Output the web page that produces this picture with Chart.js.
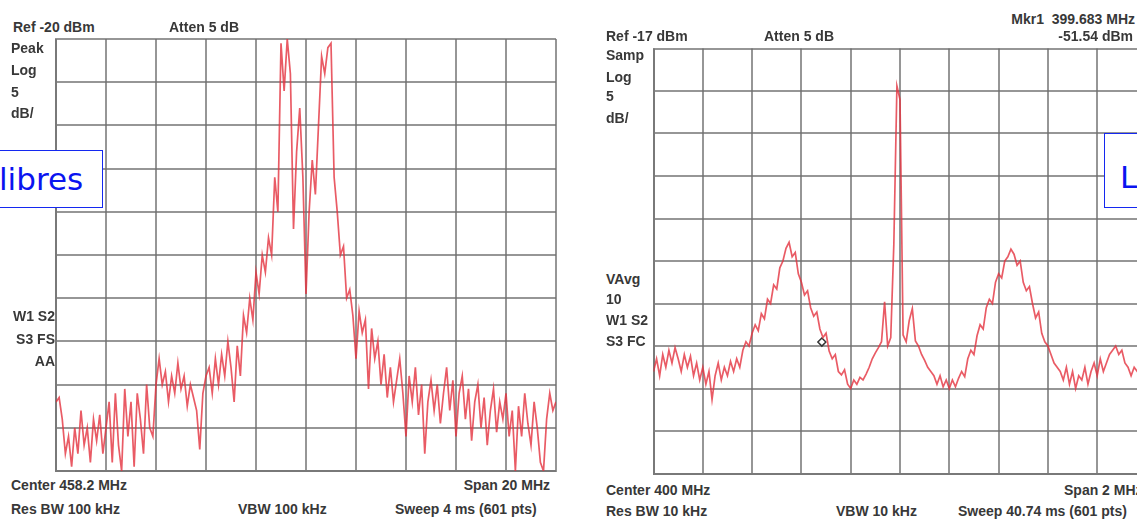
<!DOCTYPE html>
<html>
<head>
<meta charset="utf-8">
<script src="https://cdn.jsdelivr.net/npm/chart.js@4.4.0/dist/chart.umd.min.js"></script>
<style>
html, body { margin: 0; padding: 0; background: #fff; width: 1137px; height: 525px; overflow: hidden; }
body { position: relative; }
canvas { position: absolute; }
.t { position: absolute; font: bold 14px "Liberation Sans", Arial, sans-serif; line-height: 14px; color: #383838; white-space: nowrap; }
.r { transform: translateX(-100%); }
.box { position: absolute; background: #fff; border: 1.5px solid #1428f0; box-sizing: border-box; }
.hand { position: absolute; font: 31px "DejaVu Sans", sans-serif; line-height: 31px; color: #0a14f0; white-space: nowrap; }
</style>
</head>
<body>
<canvas id="leftChart" width="508" height="440" style="left:52px; top:35px"></canvas>
<canvas id="rightChart" width="504" height="436" style="left:648px; top:43px"></canvas>

<!-- left screen annotations -->
<div class="t" style="left:13px; top:20px">Ref -20 dBm</div>
<div class="t" style="left:169px; top:20px">Atten 5 dB</div>
<div class="t" style="left:11px; top:41px">Peak</div>
<div class="t" style="left:11px; top:63px">Log</div>
<div class="t" style="left:11px; top:85px">5</div>
<div class="t" style="left:11px; top:106px">dB/</div>
<div class="t r" style="left:55px; top:309px">W1 S2</div>
<div class="t r" style="left:55px; top:332px">S3 FS</div>
<div class="t r" style="left:55px; top:354px">AA</div>
<div class="t" style="left:11px; top:478px">Center 458.2 MHz</div>
<div class="t r" style="left:550px; top:478px">Span 20 MHz</div>
<div class="t" style="left:11px; top:502px">Res BW 100 kHz</div>
<div class="t" style="left:238px; top:502px">VBW 100 kHz</div>
<div class="t" style="left:395px; top:502px">Sweep 4 ms (601 pts)</div>

<!-- right screen annotations -->
<div class="t r" style="left:1135px; top:12px">Mkr1&nbsp; 399.683 MHz</div>
<div class="t r" style="left:1133px; top:29px">-51.54 dBm</div>
<div class="t" style="left:606px; top:29px">Ref -17 dBm</div>
<div class="t" style="left:764px; top:29px">Atten 5 dB</div>
<div class="t" style="left:606px; top:48px">Samp</div>
<div class="t" style="left:606px; top:70px">Log</div>
<div class="t" style="left:606px; top:89px">5</div>
<div class="t" style="left:606px; top:111px">dB/</div>
<div class="t" style="left:606px; top:272px">VAvg</div>
<div class="t" style="left:606px; top:292px">10</div>
<div class="t" style="left:606px; top:313px">W1 S2</div>
<div class="t" style="left:606px; top:334px">S3 FC</div>
<div class="t" style="left:606px; top:483px">Center 400 MHz</div>
<div class="t" style="left:1064px; top:483px">Span 2 MHz</div>
<div class="t" style="left:606px; top:504px">Res BW 10 kHz</div>
<div class="t" style="left:836px; top:504px">VBW 10 kHz</div>
<div class="t" style="left:958px; top:504px">Sweep 40.74 ms (601 pts)</div>

<!-- handwritten-style labels -->
<div class="box" style="left:-3px; top:150px; width:106px; height:58px"></div>
<div class="hand" style="left:-1px; top:164px">libres</div>
<div class="box" style="left:1104px; top:133px; width:60px; height:75px"></div>
<div class="hand" style="left:1120px; top:162px">L</div>

<script>
// Left screen: Center 458.2 MHz, Span 20 MHz, Ref -20 dBm, 5 dB/div
const leftStartMHz = 448.2;
const leftStopMHz = 468.2;
const leftRefDbm = -20;
const leftLevels = [
    -62, -61.5, -64, -68, -66, -69.5, -65, -68, -63, -67, -65, -69, -64, -66.5, -63.5, -68, -65,
    -62, -69, -61, -67, -70, -60.5, -66, -62, -69.5, -61, -64, -68, -60, -65, -66, -60,
    -57, -60, -58.5, -62, -59, -61, -57.5, -60.5, -59, -62.5, -60, -61.5, -63, -67.5, -61, -59,
    -58, -61, -57, -60, -56.5, -59, -55, -58, -62, -55.5, -59, -52, -54, -50, -52.5, -47,
    -49.5, -45, -47, -43, -45, -36, -40, -20.5, -26, -20, -24, -42, -33, -28, -36, -49.5,
    -40, -34, -38, -30, -22, -24, -21, -20.5, -36, -40, -45, -44, -50, -49, -52, -57,
    -51.5, -54, -52.5, -60.5, -53.5, -57, -55, -60, -56.5, -61.5, -58, -62, -59.5, -57, -61, -66,
    -59, -62, -58, -63.5, -60, -68, -62, -59.5, -63, -60, -64.5, -61, -58, -63, -59.5, -66,
    -61, -59, -64, -60.5, -66.5, -62, -60, -65, -61.5, -67, -63, -60.5, -65.5, -62, -64, -61,
    -66, -63, -70, -62.5, -66, -61, -64.5, -67, -62, -65, -69, -70, -64, -61, -63, -62
];

// Right screen: Center 400 MHz, Span 2 MHz, Ref -17 dBm, 5 dB/div
const rightStartMHz = 399;
const rightStopMHz = 401;
const rightRefDbm = -17;
const rightLevels = [
    -55, -53.5, -55.5, -53, -54.5, -52.5, -54, -52.2, -53.5, -55, -53, -54.5, -53.2, -55.5, -54, -56,
    -54.5, -56.5, -55, -58.3, -55.5, -54, -56, -54.5, -55.5, -53.8, -55, -53.5, -54.5, -52.5, -51.5, -52,
    -50.5, -49.5, -50.2, -48.2, -48.8, -46.5, -47, -44.8, -45.3, -42.8, -42, -40.5, -39.8, -41.5, -41, -43.5,
    -44.5, -46, -45.5, -47.5, -48.5, -48, -50, -51, -50.5, -52.6, -53.5, -53, -55, -55.4, -54.8, -56.5,
    -57, -56, -56.5, -55.7, -56, -55.3, -54.5, -53.5, -52.8, -52.2, -51.5, -46.8, -52, -51, -40, -21.4,
    -23, -50.7, -51.5, -49, -47.6, -51.4, -52, -53, -53.7, -54.5, -55, -55.5, -56.5, -55.5, -56.8, -56,
    -57, -56, -56.8, -55.8, -55, -55.6, -53.5, -52.5, -53, -50.8, -49.5, -50, -47.5, -46.5, -47, -44.5,
    -43.5, -44, -42, -41.5, -40.6, -41.2, -42.5, -42, -44.5, -45.5, -45, -47, -48.7, -48, -50.5, -51.5,
    -52, -53, -54, -54.5, -55, -56, -54.5, -56.5, -55, -57, -55.5, -56, -54.5, -56.5, -55, -54,
    -55.5, -53.5, -55, -54, -53, -52.5, -52, -53, -52.5, -54, -54.5, -55.5, -54.5, -55, -54, -55, -54.5
];

// Marker 1
const markerMHz = 399.683;
const markerDbm = -51.54;

const gridColor = "rgba(110, 110, 110, 0.72)";
const traceColor = "rgba(228, 50, 62, 0.8)";

function toPoints(startMHz, stopMHz, levels) {
    // Sweep points are evenly spaced across the span
    const step = (stopMHz - startMHz) / (levels.length - 1);
    return levels.map((y, i) => ({ x: startMHz + i * step, y: y }));
}

function createChart(id, startMHz, stopMHz, refDbm, levels, marker) {
    const ctx = document.getElementById(id).getContext("2d");
    const datasets = [
        {
            data: toPoints(startMHz, stopMHz, levels),
            borderColor: traceColor,
            borderWidth: 1.7,
            pointRadius: 0,
            tension: 0
        }
    ];
    if (marker) {
        datasets.push({
            data: [marker],
            showLine: false,
            pointStyle: "rectRot",
            pointRadius: 4,
            borderColor: "#333",
            borderWidth: 1.5,
            backgroundColor: "rgba(0,0,0,0)"
        });
    }
    return new Chart(ctx, {
        type: "line",
        data: { datasets: datasets },
        options: {
            responsive: false,
            animation: false,
            layout: { padding: 4 },
            plugins: { legend: { display: false }, tooltip: { enabled: false } },
            scales: {
                x: {
                    type: "linear",
                    min: startMHz,
                    max: stopMHz,
                    ticks: { display: false, stepSize: (stopMHz - startMHz) / 10 },
                    grid: { color: gridColor, lineWidth: 2, drawTicks: false },
                    border: { color: gridColor, width: 2 }
                },
                y: {
                    min: refDbm - 50,
                    max: refDbm,
                    ticks: { display: false, stepSize: 5 },
                    grid: { color: gridColor, lineWidth: 2, drawTicks: false },
                    border: { color: gridColor, width: 2 }
                }
            }
        }
    });
}

createChart("leftChart", leftStartMHz, leftStopMHz, leftRefDbm, leftLevels, null);
createChart("rightChart", rightStartMHz, rightStopMHz, rightRefDbm, rightLevels, { x: markerMHz, y: markerDbm });
</script>
</body>
</html>
